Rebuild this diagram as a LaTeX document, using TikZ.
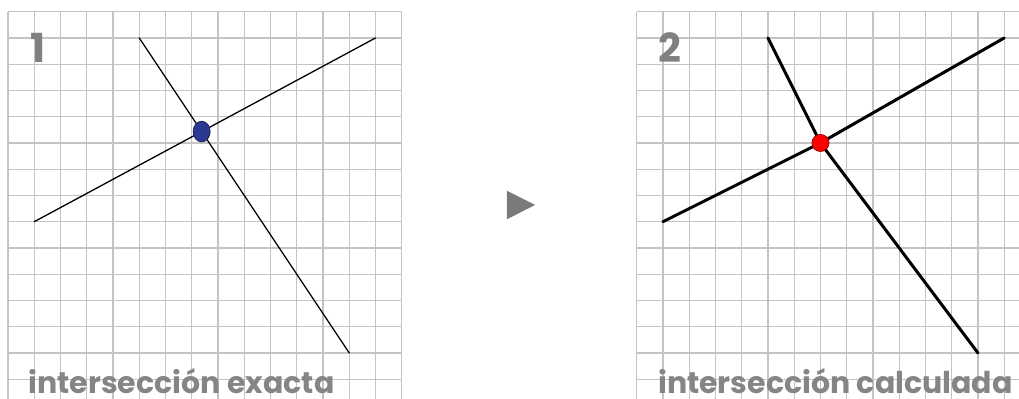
\documentclass[tikz,border=0pt]{standalone}
\usepackage{fontspec}
\setsansfont{Poppins}
\usepackage{xcolor}
\usetikzlibrary{intersections,positioning}

\definecolor{dotblue}{HTML}{2B3990}
\definecolor{dotred}{HTML}{FF0000}

\begin{document}
\begin{tikzpicture}[
  x=26.25pt, y=-26.25pt,
  gridline/.style={draw=black!23, line width=1.3pt},
  seg/.style={line width=1.3pt, line cap=round},
  segbold/.style={line width=3pt, line cap=round, line join=round},
  num/.style={font=\sffamily\bfseries\fontsize{40}{40}\selectfont, text=black!50, inner sep=0pt},
  caption/.style={font=\sffamily\bfseries\fontsize{30}{30}\selectfont, text=black!48, inner sep=0pt, text depth=0pt, anchor=base}
]
  \path[use as bounding box, clip] (-0.305,-0.446) rectangle (38.514,14.716);

  % panel 1: exact intersection
  \foreach \c in {0,...,15} \draw[gridline] (\c,0) -- (\c,15);
  \foreach \r in {0,...,14} \draw[gridline] (0,\r) -- (15,\r);
  \coordinate (a1) at (5,1);
  \coordinate (a2) at (13,13);
  \coordinate (b1) at (1,8);
  \coordinate (b2) at (14,1);
  \draw[seg, name path=lineA] (a1) -- (a2);
  \draw[seg, name path=lineB] (b1) -- (b2);
  \path[name intersections={of=lineA and lineB, by=exact}];
  \draw[fill=dotblue, draw=dotblue!65!black, line width=0.8pt] (exact) ellipse (0.324 and 0.394);
  \node[num] (n1) at (1.16,1.36) {1};
  \node[caption] (cap1) at (6.61,14.53) {intersección exacta};

  % arrow between the panels
  \fill[black!52] (19,6.82) -- (20.08,7.36) -- (19,7.91) -- cycle;

  % panel 2: snapped to the grid
  \begin{scope}[shift={(23.95,0)}]
    \foreach \c in {0,...,15} \draw[gridline] (\c,0) -- (\c,15);
    \foreach \r in {0,...,14} \draw[gridline] (0,\r) -- (15,\r);
    \coordinate (p1) at (5,1);
    \coordinate (p2) at (13,13);
    \coordinate (q1) at (1,8);
    \coordinate (q2) at (14,1);
    \coordinate (calc) at (7,5);
    \draw[segbold] (p1) -- (calc) -- (p2);
    \draw[segbold] (q1) -- (calc) -- (q2);
    \draw[fill=dotred, draw=dotred!60!black, line width=0.8pt] (calc) circle (0.324);
    \node[num] (n2) at (1.25,1.38) {2};
    \node[caption] (cap2) at (7.57,14.53) {intersección calculada};
  \end{scope}
\end{tikzpicture}
\end{document}
